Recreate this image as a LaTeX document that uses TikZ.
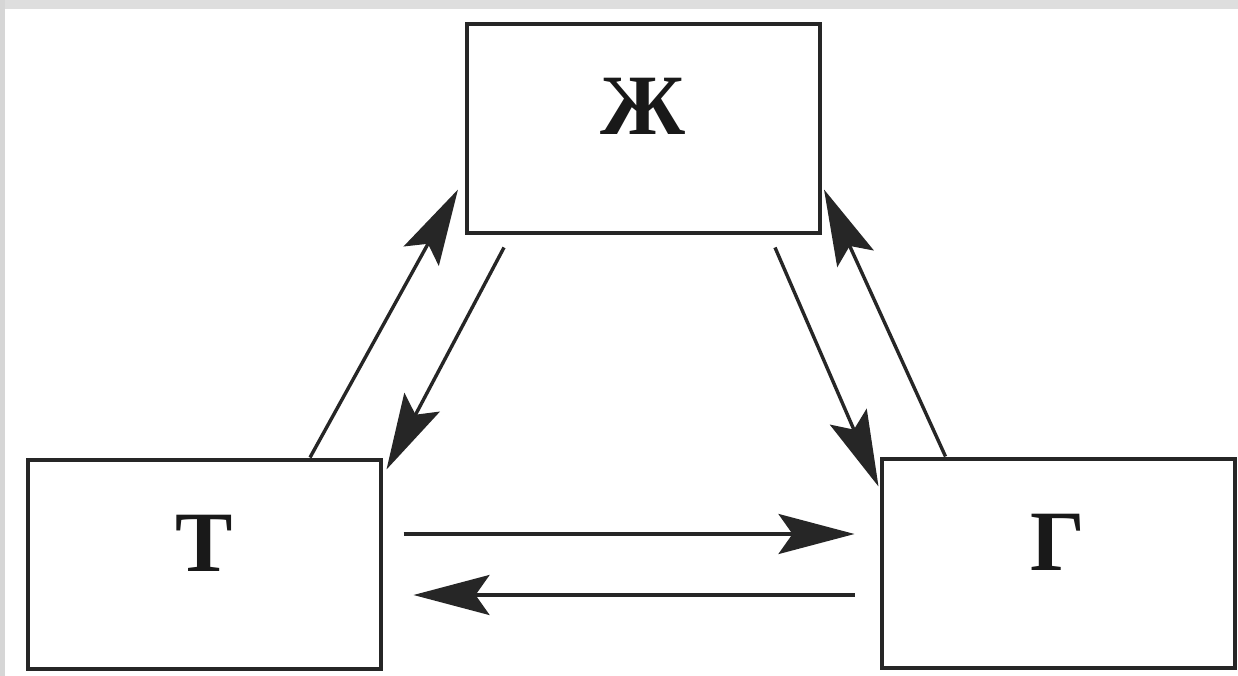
\documentclass[tikz,border=0pt]{standalone}
\usepackage{fontspec}
\setmainfont{Liberation Serif}
\usetikzlibrary{arrows.meta}
\begin{document}
\begin{tikzpicture}[x=1pt,y=-1pt,
  box/.style={draw=black!85, line width=4pt, minimum width=353pt, minimum height=209pt, inner sep=0pt},
  letter/.style={font=\bfseries\fontsize{86}{86}\selectfont, text=black!90, inner sep=0pt},
  arr/.style={draw=black!85, line width=3.4pt, -{Stealth[length=76pt, width=40pt, inset=14pt]}}]
  % canvas and the grey strip along the top and left edges
  \useasboundingbox (0,0) rectangle (1238,676);
  \fill[white] (0,0) rectangle (1238,676);
  \fill[black!13] (0,0) rectangle (1238,9);
  \fill[black!16] (0,0) rectangle (5,676);

  % the three boxes
  \node[box] (Zh) at (643.5,129) {};
  \node[box] (T)  at (204,564) {};
  \node[box] (G)  at (1058,563) {};

  % their letters, set a little above centre
  \node[letter] (ZhL) at ([yshift=23pt]Zh.center) {Ж};
  \node[letter] (TL)  at ([yshift=21pt]T.center) {Т};
  \node[letter] (GL)  at ([yshift=21pt]G.center) {Г};

  % Т <-> Ж
  \draw[arr] ([xshift=106pt]T.north) -- ([xshift=-7pt,yshift=46pt]Zh.south west);
  \draw[arr] ([xshift=39pt,yshift=-12pt]Zh.south west) -- ([xshift=4pt,yshift=-12pt]T.north east);
  % Ж <-> Г
  \draw[arr] ([xshift=-47pt,yshift=-12pt]Zh.south east) -- ([xshift=-1pt,yshift=-30pt]G.north west);
  \draw[arr] ([xshift=66pt]G.north west) -- ([xshift=2pt,yshift=46pt]Zh.south east);
  % Т <-> Г
  \draw[arr] ([xshift=21pt,yshift=30pt]T.east) -- ([xshift=-25pt,yshift=29pt]G.west);
  \draw[arr] ([xshift=-25pt,yshift=-32pt]G.west) -- ([xshift=31pt,yshift=-31pt]T.east);
\end{tikzpicture}
\end{document}
